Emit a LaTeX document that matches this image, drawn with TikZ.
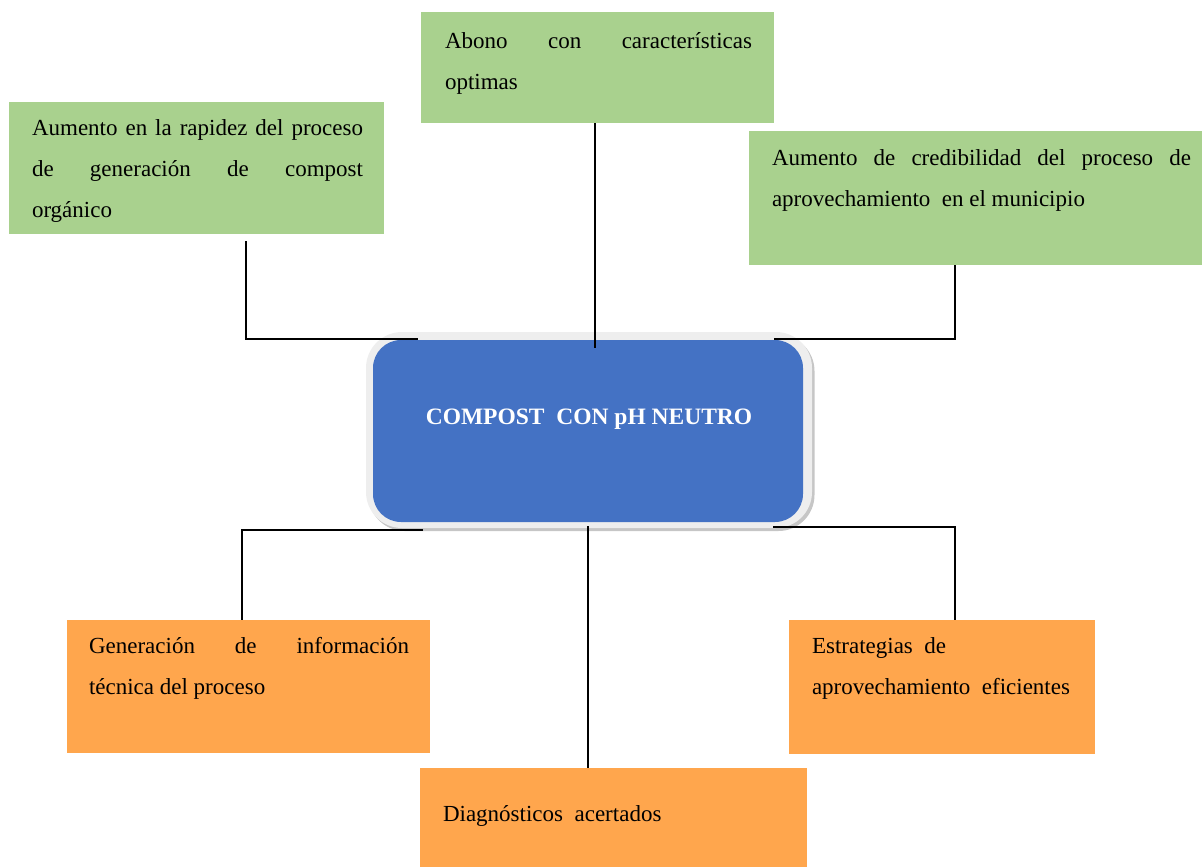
\documentclass[tikz,border=0pt]{standalone}
\usepackage{fontspec}
\setmainfont{Liberation Serif}
\usetikzlibrary{shadows}
\definecolor{leaf}{HTML}{A9D18E}
\definecolor{amber}{HTML}{FFA64D}
\definecolor{royal}{HTML}{4472C4}
\definecolor{rim}{HTML}{EEEEEE}
\tolerance=10000
\hbadness=10000
\begin{document}
\begin{tikzpicture}[x=1pt,y=-1pt,
  panel/.style={anchor=north west, inner sep=0pt, outer sep=0pt, draw=none},
  txt/.style={anchor=north west, inner sep=0pt, outer sep=0pt,
    font=\fontsize{23}{41}\selectfont},
  link/.style={line width=1.5pt, black}]
\useasboundingbox (0,0) rectangle (1202,867);

% effect boxes (green, above)
\node[panel, fill=leaf, minimum width=375pt, minimum height=132pt] (A) at (9,102) {};
\node[panel, fill=leaf, minimum width=353pt, minimum height=111pt] (B) at (421,12) {};
\node[panel, fill=leaf, minimum width=453pt, minimum height=134pt] (C) at (749,131) {};

% effect boxes (orange, below)
\node[panel, fill=amber, minimum width=363pt, minimum height=133pt] (D) at (67,620) {};
\node[panel, fill=amber, minimum width=306pt, minimum height=134pt] (E) at (789,620) {};
\node[panel, fill=amber, minimum width=387pt, minimum height=99pt] (F) at (420,768) {};

% box texts
\node[txt, text width=331pt, align=justify] (tA) at (32,106.3)
  {\strut Aumento en la rapidez del proceso\linebreak de generación de compost\linebreak orgánico};
\node[txt, text width=307pt, align=justify] (tB) at (445,20.3)
  {\strut Abono con características\linebreak optimas};
\node[txt, text width=419pt, align=justify] (tC) at (772,136.3)
  {\strut Aumento de credibilidad del proceso de\linebreak aprovechamiento\ \ en el municipio};
\node[txt, text width=320pt, align=justify] (tD) at (89,624.3)
  {\strut Generación de información\linebreak técnica del proceso};
\node[txt, text width=280pt, align=justify] (tE) at (812,624.3)
  {\strut Estrategias\ \ de\newline aprovechamiento\ \ eficientes};
\node[txt, text width=340pt, align=justify] (tF) at (443,792.3)
  {\strut Diagnósticos\ \ acertados};

% central problem node
\node[minimum width=446pt, minimum height=196pt, rounded corners=36pt, fill=rim,
  drop shadow={shadow xshift=2.5pt, shadow yshift=-3pt, opacity=0.45, fill=gray}] (rimbox) at (589,430) {};
\node[minimum width=430pt, minimum height=182pt, rounded corners=28pt, fill=royal] (core) at (588,431) {};
\node[anchor=base, text=white, inner sep=0pt, font=\bfseries\fontsize{23.5}{28}\selectfont] (title) at (589,424)
  {COMPOST\ \ CON pH NEUTRO};

% connector end points
\coordinate (a1) at (246,241);
\coordinate (a2) at (418,339);
\coordinate (b1) at (595,348);
\coordinate (c1) at (774,339);
\coordinate (cx) at (955,0);
\coordinate (d1) at (423,530);
\coordinate (dx) at (242,0);
\coordinate (f1) at (588,526);
\coordinate (e1) at (773,527);
\coordinate (ex) at (955,0);

% connectors
\draw[link] (a1) |- (a2);
\draw[link] (B.south -| b1) -- (b1);
\draw[link] (C.south -| cx) |- (c1);
\draw[link] (d1) -| (D.north -| dx);
\draw[link, line width=1.2pt] (f1) -- (F.north -| f1);
\draw[link] (e1) -| (E.north -| ex);
\end{tikzpicture}
\end{document}
